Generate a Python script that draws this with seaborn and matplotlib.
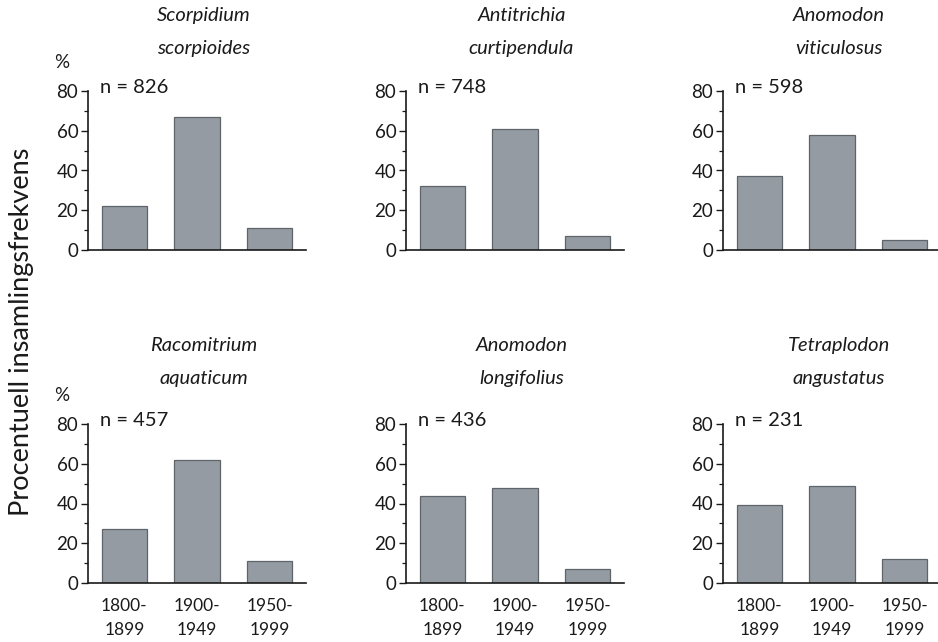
import matplotlib
matplotlib.use("Agg")
import matplotlib.pyplot as plt
from matplotlib.ticker import MultipleLocator
import seaborn as sns
import pandas as pd

sns.set_style("ticks")
plt.rcParams["font.family"] = ["Lato", "DejaVu Sans"]

periods = ["1800-\n1899", "1900-\n1949", "1950-\n1999"]
species = [
    "Scorpidium\nscorpioides",
    "Antitrichia\ncurtipendula",
    "Anomodon\nviticulosus",
    "Racomitrium\naquaticum",
    "Anomodon\nlongifolius",
    "Tetraplodon\nangustatus",
]
sample_sizes = [826, 748, 598, 457, 436, 231]
scorpidium = [22, 67, 11]
antitrichia = [32, 61, 7]
anomodon_vit = [37, 58, 5]
racomitrium = [27, 62, 11]
anomodon_long = [44, 48, 7]
tetraplodon = [39, 49, 12]
series = [scorpidium, antitrichia, anomodon_vit, racomitrium, anomodon_long, tetraplodon]

W, H = 938, 642
fig = plt.figure(figsize=(W / 100, H / 100), dpi=100)

lefts = [88, 406, 723]
bottoms = [250, 583]
title_y = [1.37, 1.39]
ax_w = 218
ax_h = 159

bar_color = "#959ba3"
edge_color = "#5f6468"
text_color = "#1a1a1a"

for i, (name, n, vals) in enumerate(zip(species, sample_sizes, series)):
    row, col = divmod(i, 3)
    ax = fig.add_axes([lefts[col] / W, 1 - bottoms[row] / H, ax_w / W, ax_h / H])
    df = pd.DataFrame({"period": periods, "pct": vals})
    sns.barplot(data=df, x="period", y="pct", ax=ax, color=bar_color,
                saturation=1, width=0.62, edgecolor=edge_color, linewidth=0.9)
    ax.set_xlim(-0.5, 2.5)
    ax.set_ylim(0, 80)
    ax.yaxis.set_major_locator(MultipleLocator(20))
    ax.yaxis.set_minor_locator(MultipleLocator(10))
    ax.set_xlabel("")
    ax.set_ylabel("")
    sns.despine(ax=ax)
    for s in ("left", "bottom"):
        ax.spines[s].set_linewidth(1.2)
        ax.spines[s].set_color(text_color)
    ax.tick_params(axis="y", which="major", length=5, width=1.0, labelsize=13.5,
                   color=text_color, labelcolor=text_color, pad=2)
    ax.tick_params(axis="y", which="minor", length=3, width=0.9, color=text_color)
    ax.tick_params(axis="x", length=0, labelsize=12.5, labelcolor=text_color, pad=11)
    if row == 0:
        ax.set_xticklabels([])
    else:
        for lbl in ax.get_xticklabels():
            lbl.set_linespacing(1.6)
    ax.text(0.055, 1.02, f"n = {n}", transform=ax.transAxes, fontsize=14.5,
            color=text_color, ha="left", va="center")
    ax.text(0.53, title_y[row], name, transform=ax.transAxes, fontsize=14.5,
            style="italic", color=text_color, ha="center", va="center",
            linespacing=2.1)
    if col == 0:
        ax.text(-0.12, 1.18, "%", transform=ax.transAxes, fontsize=13.5,
                color=text_color, ha="center", va="center")

fig.text(22 / W, 1 - 332 / H, "Procentuell insamlingsfrekvens", rotation=90,
         fontsize=19.5, color=text_color, ha="center", va="center")

fig.savefig("out.png", dpi=100)
